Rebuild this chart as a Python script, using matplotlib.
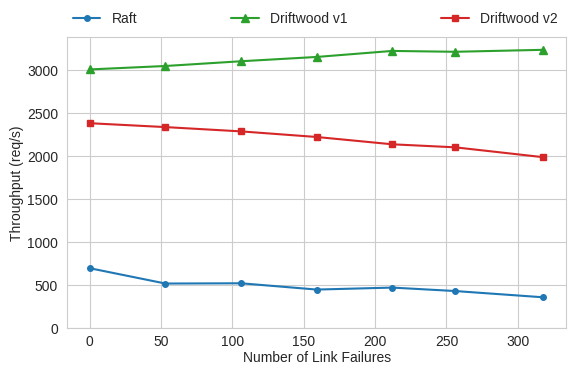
import matplotlib
matplotlib.use("Agg")
import matplotlib.pyplot as plt
import seaborn as sns

failures = [0, 53, 106, 159, 212, 256, 318]
raft = [700, 522, 525, 452, 475, 435, 362]
driftwood_v1 = [3010, 3050, 3105, 3155, 3225, 3215, 3238]
driftwood_v2 = [2385, 2340, 2290, 2225, 2140, 2105, 1990]

sns.set_style("whitegrid")
plt.rcParams['font.family'] = ['Liberation Sans', 'DejaVu Sans']

fig, ax = plt.subplots(figsize=(5.69, 3.67), dpi=100)
ax.plot(failures, raft, marker='o', markersize=4, color='#1f77b4', label='Raft')
ax.plot(failures, driftwood_v1, marker='^', markersize=6, color='#2ca02c', label='Driftwood v1')
ax.plot(failures, driftwood_v2, marker='s', markersize=5, color='#d62728', label='Driftwood v2')
ax.set_ylim(bottom=0)
ax.set_xlabel('Number of Link Failures', fontsize=10, labelpad=1)
ax.set_ylabel('Throughput (req/s)', fontsize=10, labelpad=2)
ax.tick_params(axis='x', labelsize=10, pad=1.5)
ax.tick_params(axis='y', labelsize=10, pad=3)
ax.legend(loc='lower left', bbox_to_anchor=(0, 1.02, 0.995, 0.1), ncol=3, mode='expand',
          frameon=False, fontsize=10, borderaxespad=0)
fig.subplots_adjust(left=0.118, right=0.995, top=0.898, bottom=0.105)
fig.savefig('out.png', dpi=100)
